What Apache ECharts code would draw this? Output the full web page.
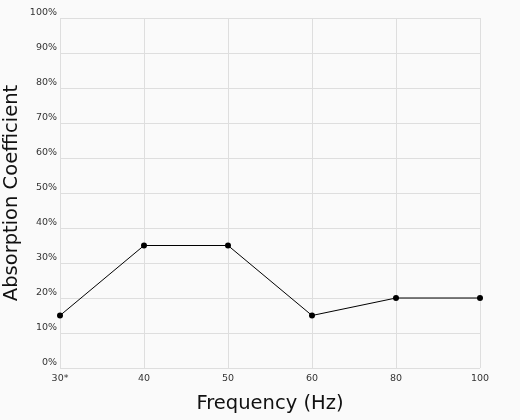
<!DOCTYPE html>
<html><head><meta charset="utf-8">
<script src="https://cdn.jsdelivr.net/npm/echarts@6/dist/echarts.min.js"></script>
<style>html,body{margin:0;padding:0;background:#fafafa}#c{width:520px;height:420px}</style>
</head><body><div id="c"></div>
<script>
const categories = ['30*', '40', '50', '60', '80', '100'];
const absorption = [15, 35, 35, 15, 20, 20];
const yTicks = [0, 10, 20, 30, 40, 50, 60, 70, 80, 90, 100];

const chart = echarts.init(document.getElementById('c'), null, {renderer: 'canvas'});
chart.setOption({
  backgroundColor: '#fafafa',
  animation: false,
  grid: {left: 60, right: 40, top: 18, bottom: 52, containLabel: false, outerBoundsMode: 'none'},
  xAxis: {
    type: 'category',
    data: categories,
    boundaryGap: false,
    name: 'Frequency (Hz)',
    nameLocation: 'middle',
    nameGap: 26,
    nameMoveOverlap: false,
    nameTextStyle: {fontFamily: 'DejaVu Sans', fontSize: 19.5, color: '#111'},
    axisLine: {show: false},
    axisTick: {show: false},
    axisLabel: {fontFamily: 'DejaVu Sans', fontSize: 9.5, color: '#333', margin: 6},
    splitLine: {show: true, lineStyle: {color: '#dedede', width: 1}}
  },
  yAxis: {
    type: 'value',
    min: 0, max: 100, interval: 10,
    name: 'Absorption Coefficient',
    nameLocation: 'middle',
    nameGap: 38,
    nameMoveOverlap: false,
    nameTextStyle: {fontFamily: 'DejaVu Sans', fontSize: 19.5, color: '#111'},
    axisLine: {show: false},
    axisTick: {show: false},
    axisLabel: {fontFamily: 'DejaVu Sans', fontSize: 9.5, color: '#333', margin: 3, verticalAlign: 'bottom',
      formatter: v => yTicks.includes(v) ? v + '%' : ''},
    splitLine: {show: true, lineStyle: {color: '#dedede', width: 1}}
  },
  series: [{
    type: 'line',
    data: absorption,
    symbol: 'circle',
    symbolSize: 6,
    lineStyle: {color: '#000', width: 1},
    itemStyle: {color: '#000'}
  }]
});
</script></body></html>
